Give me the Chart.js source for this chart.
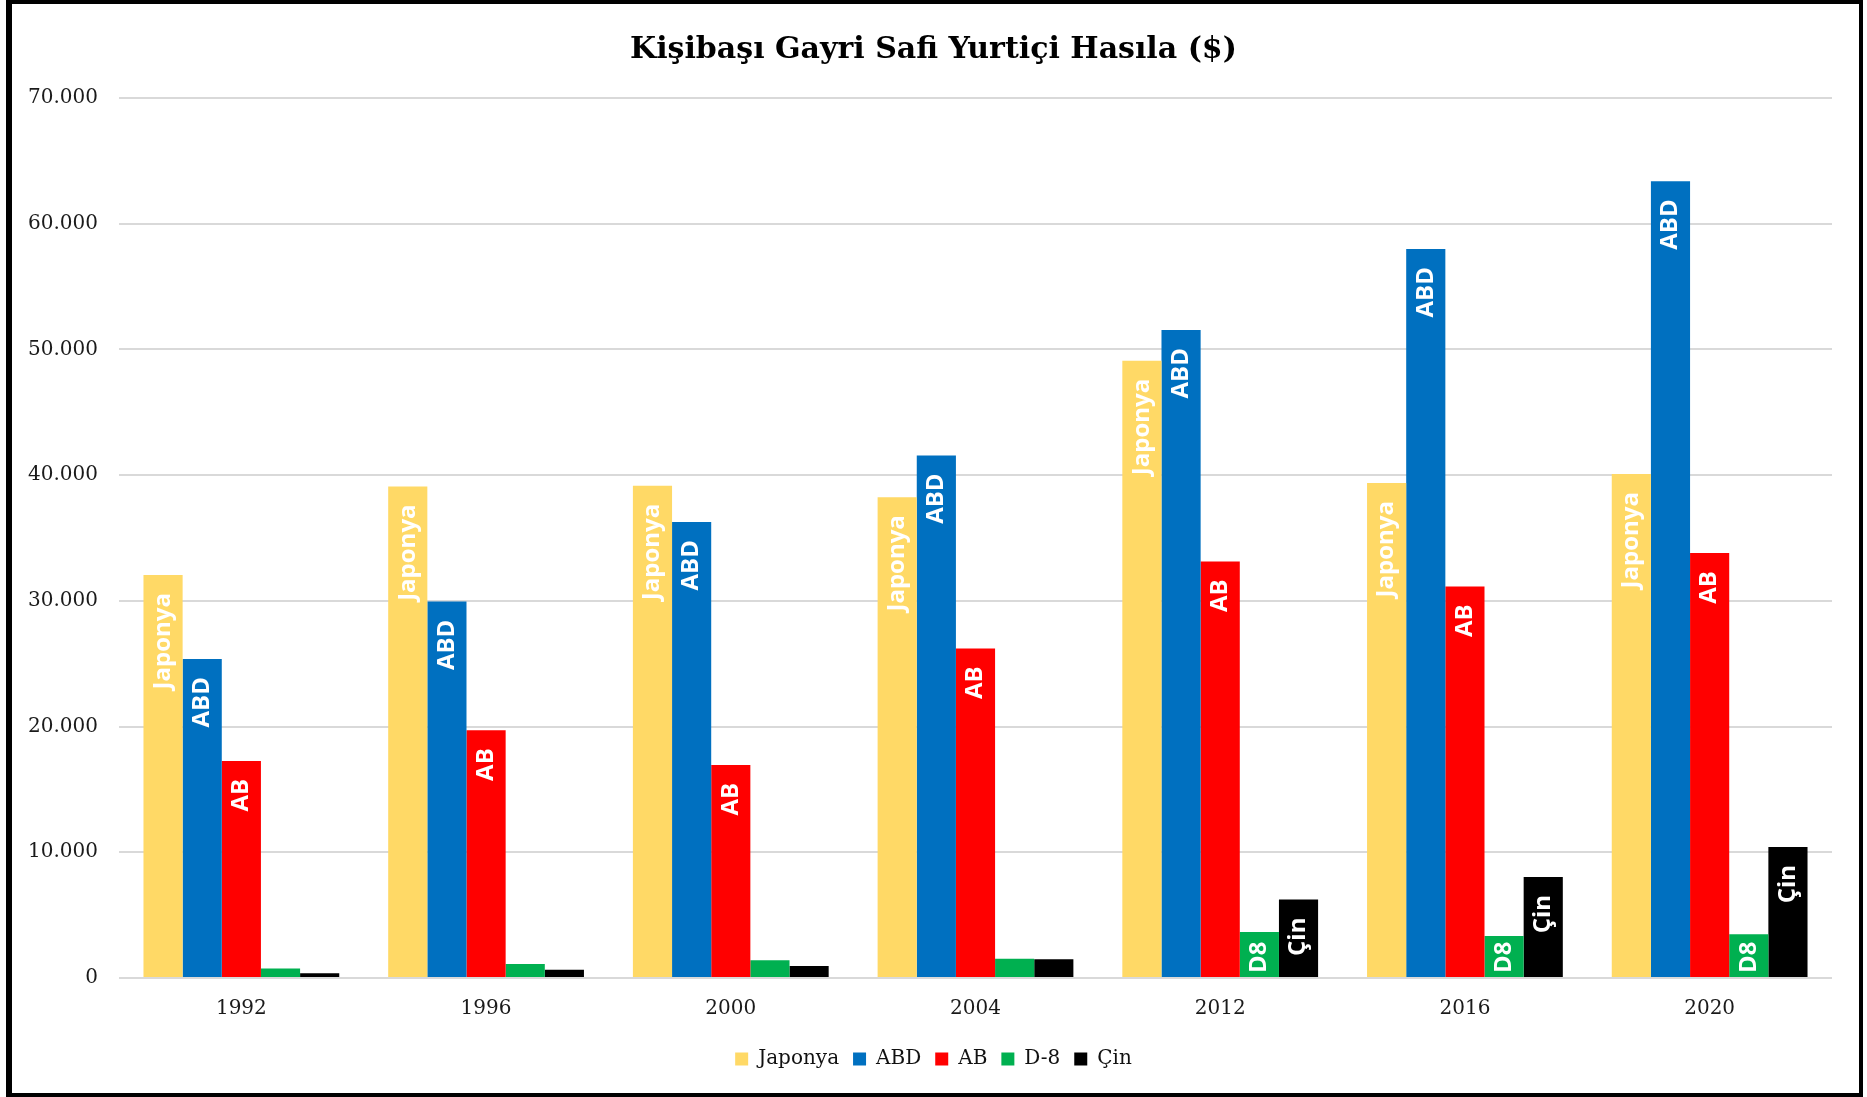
<!DOCTYPE html>
<html>
<head>
<meta charset="utf-8">
<title>Kişibaşı Gayri Safi Yurtiçi Hasıla</title>
<script src="https://cdn.jsdelivr.net/npm/chart.js@4/dist/chart.umd.min.js"></script>
<style>
  html, body { margin: 0; padding: 0; background: #fff; overflow: hidden; }
  #wrap { position: relative; width: 1867px; height: 1097px; }
</style>
</head>
<body>
<div id="wrap"><canvas id="gdpChart"></canvas></div>
<script>
// Data
const years = ['1992', '1996', '2000', '2004', '2012', '2016', '2020'];
const japonya = [32050, 39100, 39150, 38250, 49100, 39370, 40090];
const abd = [25370, 29940, 36270, 41570, 51540, 57980, 63370];
const ab = [17270, 19710, 16950, 26220, 33140, 31150, 33800];
const d8 = [750, 1120, 1420, 1530, 3660, 3340, 3480];
const cin = [370, 665, 950, 1500, 6240, 8040, 10430];

const seriesNames = ['Japonya', 'ABD', 'AB', 'D-8', 'Çin'];
const barNames = ['Japonya', 'ABD', 'AB', 'D8', 'Çin'];
const colors = ['#FFD966', '#0070C0', '#FF0000', '#00B050', '#000000'];
const yTicks = [0, 10000, 20000, 30000, 40000, 50000, 60000, 70000];

function fmt(v) {
    return String(v).replace(/\B(?=(\d{3})+(?!\d))/g, '.');
}

// white page + black frame
const framePlugin = {
    id: 'frame',
    beforeDraw(chart) {
        const ctx = chart.ctx;
        ctx.save();
        ctx.fillStyle = '#fff';
        ctx.fillRect(0, 0, chart.width, chart.height);
        ctx.fillStyle = '#000';
        ctx.fillRect(6, 0, 6, 1097);
        ctx.fillRect(1859, 0, 4, 1097);
        ctx.fillRect(6, 0, 1857, 4);
        ctx.fillRect(6, 1093, 1857, 4);
        ctx.restore();
    }
};

// rotated series names inside the bars
const namePlugin = {
    id: 'barNames',
    afterDatasetsDraw(chart) {
        const ctx = chart.ctx;
        ctx.save();
        ctx.font = 'bold 24px "Open Sans"';
        ctx.fillStyle = '#fff';
        ctx.textBaseline = 'middle';
        ctx.textAlign = 'right';
        chart.data.datasets.forEach((ds, i) => {
            const text = barNames[i];
            const w = ctx.measureText(text).width;
            chart.getDatasetMeta(i).data.forEach(bar => {
                const h = bar.base - bar.y;
                if (h < w + 6) return;
                let end = bar.y + 18;
                if (end + w > bar.base - 4) end = bar.base - 4 - w;
                ctx.save();
                ctx.translate(bar.x, end);
                ctx.rotate(-Math.PI / 2);
                ctx.fillText(text, 0, 0);
                ctx.restore();
            });
        });
        ctx.restore();
    }
};

const values = [japonya, abd, ab, d8, cin];

new Chart(document.getElementById('gdpChart'), {
    type: 'bar',
    data: {
        labels: years,
        datasets: values.map((d, i) => ({
            label: seriesNames[i],
            data: d,
            backgroundColor: colors[i],
            borderWidth: 0,
            categoryPercentage: 0.8,
            barPercentage: 1.0
        }))
    },
    options: {
        responsive: true,
        maintainAspectRatio: false,
        animation: false,
        layout: { padding: { left: 10, right: 10, top: 0, bottom: 18 } },
        plugins: {
            tooltip: { enabled: false },
            title: {
                display: true,
                text: 'Kişibaşı Gayri Safi Yurtiçi Hasıla ($)',
                color: '#000',
                font: { family: '"DejaVu Serif"', size: 30, weight: 'bold', lineHeight: 1.2 },
                padding: { top: 32, bottom: 30 }
            },
            legend: {
                position: 'bottom',
                labels: {
                    color: '#111',
                    font: { family: '"DejaVu Serif"', size: 20 },
                    boxWidth: 13,
                    boxHeight: 13,
                    padding: 14
                }
            }
        },
        scales: {
            x: {
                grid: { display: false },
                border: { display: false },
                ticks: {
                    color: '#1a1a1a',
                    font: { family: '"DejaVu Serif"', size: 20 },
                    padding: 11
                },
                afterFit(scale) { scale.height = 57; }
            },
            y: {
                min: 0,
                max: 70000,
                afterBuildTicks(scale) {
                    scale.ticks = yTicks.map(v => ({ value: v }));
                },
                grid: { color: '#D9D9D9', lineWidth: 2, drawTicks: false },
                border: { display: false },
                ticks: {
                    color: '#1a1a1a',
                    font: { family: '"DejaVu Serif"', size: 20 },
                    padding: 21,
                    callback: v => fmt(v)
                },
                afterFit(scale) { scale.width = 109; }
            },
            // empty spacer on the right so the plot ends where the reference does
            yRight: {
                position: 'right',
                display: true,
                grid: { display: false },
                border: { display: false },
                ticks: { display: false },
                afterFit(scale) { scale.width = 25; }
            }
        }
    },
    plugins: [framePlugin, namePlugin]
});
</script>
</body>
</html>
